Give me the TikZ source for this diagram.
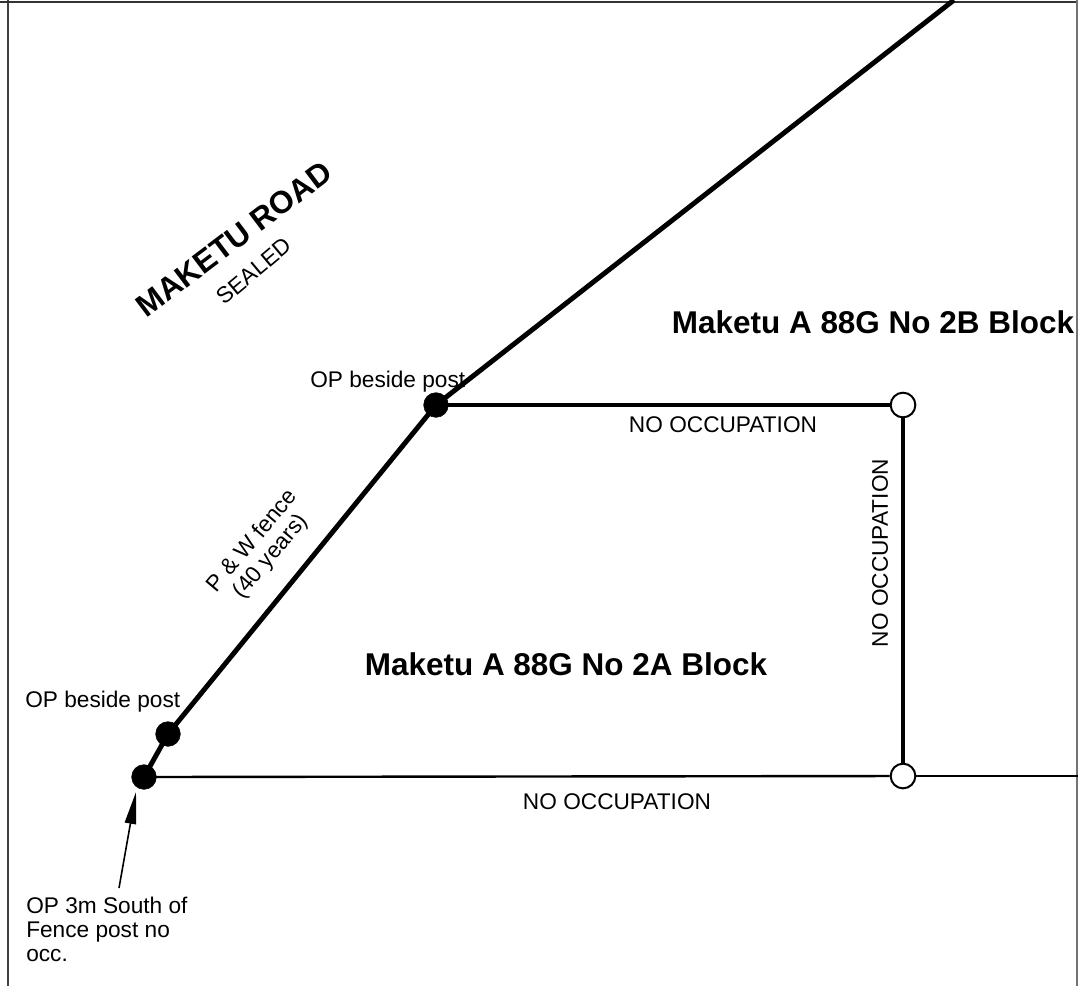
\documentclass[tikz,border=0pt]{standalone}
\usepackage{fontspec}
\setmainfont{Liberation Sans}
\usetikzlibrary{arrows.meta}
\tikzset{
 x=0.75pt,y=-0.75pt,
 fenceline/.style={line width=3.7pt,black},
 thinline/.style={line width=1.8pt,black},
 solidpeg/.style={circle,fill=black,draw=black,inner sep=0pt,minimum size=18.5pt},
 openpeg/.style={circle,fill=white,draw=black,line width=1.5pt,inner sep=0pt,minimum size=18.5pt},
 lab/.style={font=\fontsize{17pt}{18pt}\selectfont,text=black,inner sep=0pt},
 blockname/.style={font=\bfseries\fontsize{23.6pt}{26pt}\selectfont,text=black,inner sep=0pt},
}
\begin{document}
\begin{tikzpicture}
\useasboundingbox (0,0) rectangle (1078,986);
\fill[white] (0,0) rectangle (1078,986);
\coordinate (tl) at (8,0);
\coordinate (bl) at (8,986);
\coordinate (tr) at (1078,2);
\coordinate (tl2) at (0,2);
\coordinate (br) at (1077,986);
\coordinate (tr2) at (1077,0);
\coordinate (topend) at (954,0);
\coordinate (rightend) at (1078,776);
\draw[line width=1.5pt,black!75] (tl) -- (bl);
\draw[line width=1.5pt,black!80] (tl2) -- (tr);
\draw[line width=1.3pt,black!55] (tr2) -- (br);
\node[solidpeg] (a) at (436,405) {};
\node[solidpeg] (b) at (168,734) {};
\node[solidpeg] (c) at (144,777) {};
\node[openpeg] (d) at (903,405) {};
\node[openpeg] (e) at (903,776) {};
\draw[fenceline] (a.center) -- (topend);
\draw[fenceline] (a.center) -- (d);
\draw[fenceline] (d) -- (e);
\draw[fenceline] (a.center) -- (b.center);
\draw[fenceline] (b.center) -- (c.center);
\draw[thinline] (c.center) -- (e);
\draw[thinline] (e) -- (rightend);
\node[lab] (l1) at (723,425) {NO OCCUPATION};
\node[lab] (l2) at (617,802) {NO OCCUPATION};
\node[lab,rotate=90] (l3) at (880,553) {NO OCCUPATION};
\node[lab,anchor=west] (l4) at (310,382) {OP beside post};
\node[lab,anchor=west] (l5) at (25,702) {OP beside post};
\node[lab,anchor=north west,align=left] (l6) at (26,897) {OP 3m South of\\Fence post no\\occ.};
\node[lab,rotate=50,align=center] (l7) at (262,549) {P \& W fence\\(40 years)};
\node[lab,rotate=40] (l8) at (254,271) {SEALED};
\node[blockname,rotate=37] (l9) at (234,239) {MAKETU ROAD};
\node[blockname] (l10) at (566,664) {Maketu A 88G No 2A Block};
\node[blockname] (l11) at (873,322) {Maketu A 88G No 2B Block};
\coordinate (arrowstart) at (119,888);
\coordinate (arrowtip) at (136,792);
\draw[line width=1.2pt,-{Stealth[length=24pt,width=8.5pt,inset=0pt]}] (arrowstart) -- (arrowtip);
\end{tikzpicture}
\end{document}
